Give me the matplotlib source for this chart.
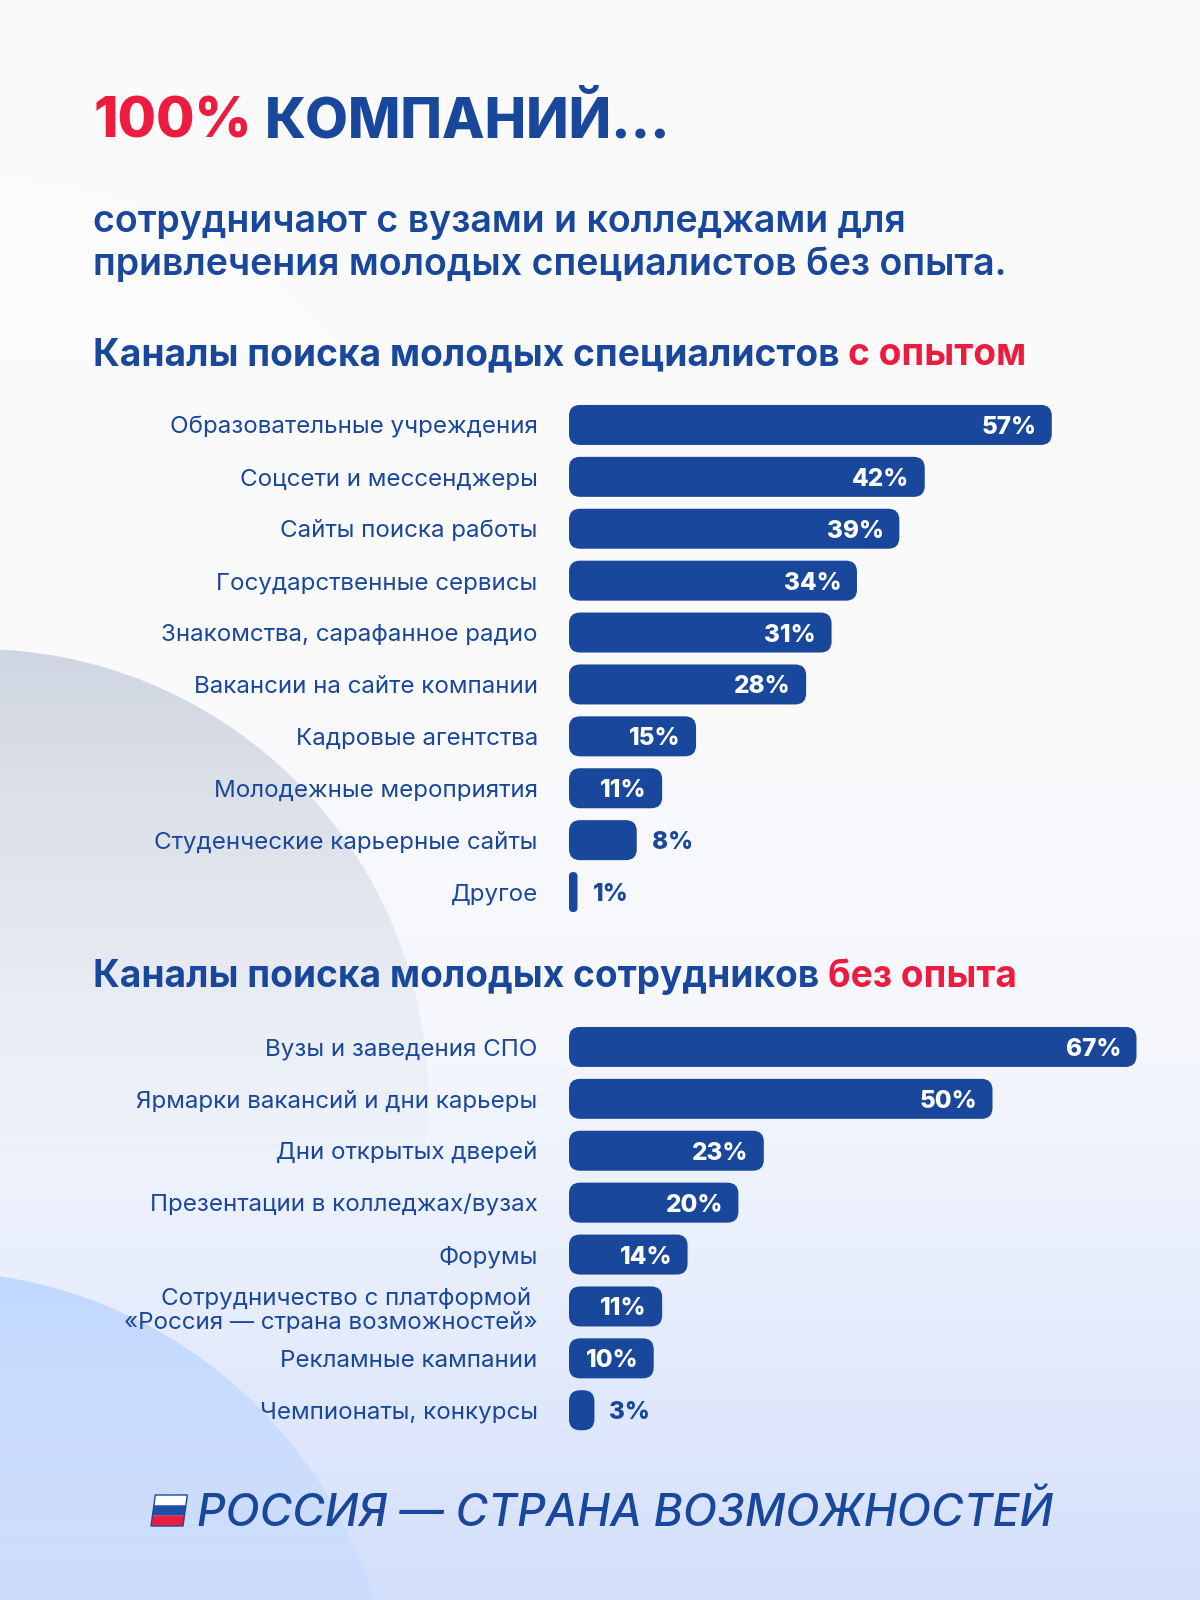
import matplotlib
matplotlib.use('Agg')
import matplotlib.pyplot as plt
import matplotlib.patches as mpatches
from matplotlib.patches import FancyBboxPatch
import numpy as np

plt.rcParams['font.family'] = ['Inter', 'Roboto', 'DejaVu Sans']

BLUE = '#19479b'
RED = '#ec1c3f'

labels_exp = ['Образовательные учреждения', 'Соцсети и мессенджеры', 'Сайты поиска работы',
              'Государственные сервисы', 'Знакомства, сарафанное радио', 'Вакансии на сайте компании',
              'Кадровые агентства', 'Молодежные мероприятия', 'Студенческие карьерные сайты', 'Другое']
values_exp = [57, 42, 39, 34, 31, 28, 15, 11, 8, 1]

labels_new = ['Вузы и заведения СПО', 'Ярмарки вакансий и дни карьеры', 'Дни открытых дверей',
              'Презентации в колледжах/вузах', 'Форумы',
              'Сотрудничество с платформой \n«Россия — страна возможностей»',
              'Рекламные кампании', 'Чемпионаты, конкурсы']
values_new = [67, 50, 23, 20, 14, 11, 10, 3]

W, H = 1200, 1600
PX_PER_PCT = 8.47
BAR_LEFT = 569
PITCH = 51.9

fig = plt.figure(figsize=(12, 16), dpi=100)

# background, vertical gradient plus the soft circles
bg = fig.add_axes([0, 0, 1, 1])
bg.set_xlim(0, W)
bg.set_ylim(H, 0)
bg.axis('off')
t = np.linspace(0, 1, 400)
stops_y = [0, 0.45, 0.65, 0.8, 1]
c0 = np.array([np.interp(t, stops_y, [250, 250, 245, 232, 211]),
               np.interp(t, stops_y, [250, 250, 247, 238, 223]),
               np.interp(t, stops_y, [251, 252, 253, 252, 251])]).T / 255
bg.imshow(c0[:, None, :], extent=[0, W, H, 0], aspect='auto', zorder=0)
bg.set_xlim(0, W)
bg.set_ylim(H, 0)


def soft_circle(cx, cy, r, rgb, y0, y1, a0, a1):
    a = np.interp(np.linspace(0, H, 800), [y0, y1], [a0, a1])
    img = np.zeros((800, 1, 4))
    img[:, 0, :3] = np.array(rgb) / 255
    img[:, 0, 3] = a
    im = bg.imshow(img, extent=[0, W, H, 0], aspect='auto', zorder=1)
    im.set_clip_path(mpatches.Circle((cx, cy), r, transform=bg.transData))


soft_circle(-20, 640, 460, (255, 255, 255), 180, 600, 0.35, 0.0)
soft_circle(-70, 1735, 464, (190, 214, 255), 1270, 1600, 0.95, 0.25)
soft_circle(-23, 1100, 451, (205, 212, 224), 650, 1170, 0.95, 0.0)


def text_run(x, y, parts, size, weight='bold', **kw):
    for s, col in parts:
        tx = bg.text(x, y, s, color=col, fontsize=size, fontweight=weight, va='baseline', ha='left', **kw)
        x = tx.get_window_extent(fig.canvas.get_renderer()).x1 + size * 0.33


text_run(93, 137, [('100%', RED), ('КОМПАНИЙ...', BLUE)], 40, weight=800)
text_run(93, 232, [('сотрудничают с вузами и колледжами для', BLUE)], 27, weight='semibold')
text_run(93, 275, [('привлечения молодых специалистов без опыта.', BLUE)], 27, weight='semibold')
text_run(93, 365, [('Каналы поиска молодых специалистов', BLUE), ('с опытом', RED)], 26.7)
text_run(93, 987, [('Каналы поиска молодых сотрудников', BLUE), ('без опыта', RED)], 26.7)


def draw_bars(labels, values, top):
    n = len(values)
    ax = fig.add_axes([BAR_LEFT / W, 1 - (top + n * PITCH) / H, (W - BAR_LEFT) / W, n * PITCH / H])
    ax.set_xlim(0, (W - BAR_LEFT) / PX_PER_PCT)
    ax.set_ylim(n - 0.5, -0.5)
    ax.patch.set_alpha(0)
    for s in ax.spines.values():
        s.set_visible(False)
    ax.set_xticks([])
    ax.set_yticks(range(n), labels, fontsize=17.4, color=BLUE, linespacing=1.15)
    ax.tick_params(axis='y', length=0, pad=22.5)
    for lab in ax.get_yticklabels():
        lab.set_ha('right')
    h = 40 / PITCH
    for i, v in enumerate(values):
        r = min(11 / PX_PER_PCT, v / 2)
        ax.add_patch(FancyBboxPatch((0, i - h / 2), v, h,
                                    boxstyle=f'round,pad=0,rounding_size={r}',
                                    mutation_aspect=PX_PER_PCT / PITCH,
                                    fc=BLUE, ec='none'))
        if v >= 10:
            ax.text(v - 15.5 / PX_PER_PCT, i, f'{v}%', color='white', fontsize=17.5,
                    fontweight=800, ha='right', va='center_baseline')
        else:
            ax.text(v + 15 / PX_PER_PCT, i, f'{v}%', color=BLUE, fontsize=17.5,
                    fontweight=800, ha='left', va='center_baseline')


draw_bars(labels_exp, values_exp, 399)
draw_bars(labels_new, values_new, 1021)

# flag
skew = 0.14
fx, fy, fw = 151, 1495, 32
for i, col in enumerate(['white', '#1f4ea6', RED]):
    y0, y1 = fy + i * 10.3, fy + (i + 1) * 10.3
    bg.add_patch(mpatches.Polygon([(fx + skew * (fy + 31 - y0), y0), (fx + fw + skew * (fy + 31 - y0), y0),
                                   (fx + fw + skew * (fy + 31 - y1), y1), (fx + skew * (fy + 31 - y1), y1)],
                                  fc=col, ec='none', zorder=3))
bg.add_patch(mpatches.Polygon([(fx + skew * 31, fy), (fx + fw + skew * 31, fy), (fx + fw, fy + 31), (fx, fy + 31)],
                              fc='none', ec=BLUE, lw=1, zorder=4))

bg.text(197, 1526, 'РОССИЯ — СТРАНА ВОЗМОЖНОСТЕЙ', color=BLUE, fontsize=32, style='italic',
        fontweight='medium', ha='left', va='baseline')

fig.savefig('out.png', dpi=100)
